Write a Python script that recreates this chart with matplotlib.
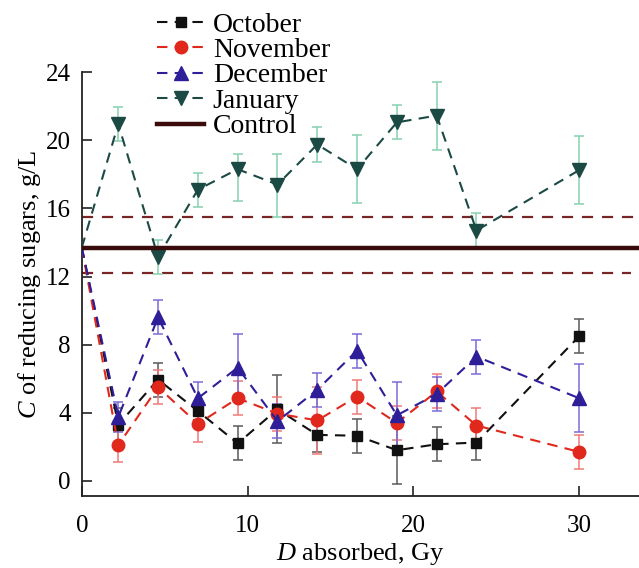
import numpy as np
import matplotlib
matplotlib.use('Agg')
import matplotlib.pyplot as plt

plt.rcParams['font.family'] = ['Liberation Serif', 'DejaVu Serif']
plt.rcParams['mathtext.fontset'] = 'custom'
plt.rcParams['mathtext.rm'] = 'Liberation Serif'
plt.rcParams['mathtext.it'] = 'Liberation Serif:italic'

# dose points, Gy (0 = control)
dose = [0, 2.2, 4.6, 7.0, 9.4, 11.8, 14.2, 16.6, 19.0, 21.4, 23.8, 30]

october = [13.7, 3.3, 5.95, 4.1, 2.2, 4.2, 2.7, 2.65, 1.8, 2.15, 2.25, 8.5]
october_err = [0, 1.0, 1.0, 0.5, 1.0, 2.0, 1.0, 1.0, 2.0, 1.0, 1.0, 1.0]

november = [13.7, 2.1, 5.5, 3.35, 4.85, 3.95, 3.55, 4.95, 3.4, 5.25, 3.25, 1.7]
november_err = [0, 1.0, 1.0, 1.05, 1.0, 1.0, 1.95, 1.0, 1.0, 1.0, 1.0, 1.0]

december = [13.7, 3.75, 9.6, 4.85, 6.65, 3.5, 5.35, 7.65, 3.85, 5.1, 7.3, 4.85]
december_err = [0, 0.9, 1.0, 0.95, 2.0, 1.0, 1.0, 1.0, 1.95, 1.0, 1.0, 2.0]

january = [13.7, 20.95, 13.15, 17.1, 18.3, 17.4, 19.75, 18.3, 21.05, 21.45, 14.7, 18.25]
january_err_lo = [0, 1.0, 1.0, 1.0, 1.85, 1.9, 1.0, 2.0, 1.0, 2.0, 1.0, 2.0]
january_err_hi = [0, 1.0, 1.0, 1.0, 0.9, 1.8, 1.0, 2.0, 1.0, 2.0, 1.0, 2.0]

control_mean = 13.7
control_hi = 15.5
control_lo = 12.2

fig = plt.figure(figsize=(6.39, 5.68), dpi=100)
ax = fig.add_axes([0.128, 0.127, 0.872, 0.746])

x_end = 33.6
ax.plot([0, x_end], [control_hi, control_hi], ls=(0, (5, 4)), lw=1.6, c='#7a2525', zorder=1)
ax.plot([0, x_end - 0.5], [control_lo, control_lo], ls=(0, (5, 4)), lw=1.6, c='#7a2525', zorder=1)

series = [
    ('October', october, october_err, 's', '#111111', '#5a5a5a', 7.5),
    ('November', november, november_err, 'o', '#e0281c', '#f07a78', 9),
    ('December', december, december_err, '^', '#2e1f99', '#7a6cd6', 9.5),
    ('January', january, [january_err_lo, january_err_hi], 'v', '#1b4a45', '#86d0b0', 9.5),
]

for name, vals, err, mk, col, ecol, ms in series:
    ax.errorbar(dose[1:], vals[1:], yerr=np.array(err)[..., 1:], fmt='none', ecolor=ecol,
                elinewidth=1.1, capsize=3.5, capthick=1.1, zorder=2)
    ax.plot(dose, vals, ls=(0, (5, 3.5)), lw=1.5, c=col, marker=mk, ms=ms,
            markevery=list(range(1, len(dose))), label=name, zorder=3)

ax.plot([0, x_end], [control_mean, control_mean], lw=3.2, c='#3a0b0b', label='Control', zorder=4)

ax.set_xlim(0, x_end)
ax.set_ylim(-0.88, 24)
ax.set_xticks([0, 10, 20, 30])
ax.set_yticks([0, 4, 8, 12, 16, 20, 24])
ax.spines['top'].set_visible(False)
ax.spines['right'].set_visible(False)
for s in ['left', 'bottom']:
    ax.spines[s].set_linewidth(1.3)
    ax.spines[s].set_color('#222222')
ax.tick_params(direction='in', length=7, width=1.2, labelsize=18, pad=8, color='#222222')
ax.tick_params(axis='x', pad=14)

ax.set_xlabel('$D$ absorbed, Gy', fontsize=19, labelpad=3)
ax.set_ylabel('$C$ of reducing sugars, g/L', fontsize=19, labelpad=2)

ax.legend(loc='upper left', bbox_to_anchor=(0.22, 1.008), bbox_transform=fig.transFigure,
          frameon=False, fontsize=20, handlelength=1.7, handletextpad=0.3,
          labelspacing=0.0, borderpad=0.1)

plt.savefig('out.png', dpi=100)
